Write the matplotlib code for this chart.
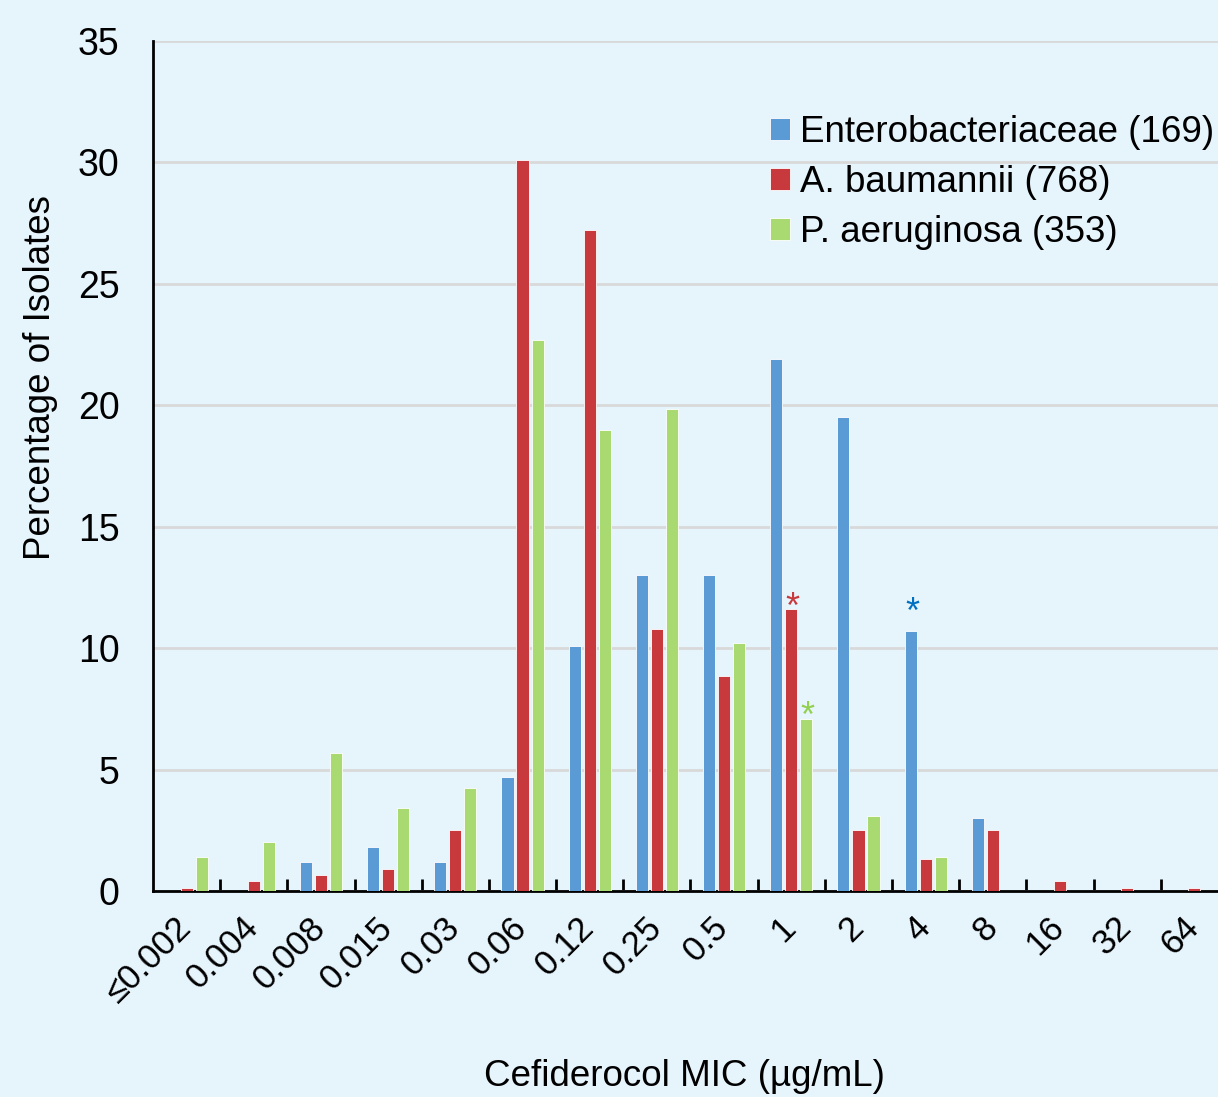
import numpy as np
import matplotlib
matplotlib.use("Agg")
import matplotlib.pyplot as plt
import matplotlib.transforms as mtransforms

plt.rcParams['font.family'] = ['Liberation Sans', 'DejaVu Sans']

categories = ["≤0.002", "0.004", "0.008", "0.015", "0.03", "0.06", "0.12", "0.25",
              "0.5", "1", "2", "4", "8", "16", "32", "64"]
entero = [0, 0, 1.2, 1.8, 1.2, 4.7, 10.1, 13.0, 13.0, 21.9, 19.5, 10.7, 3.0, 0, 0, 0]
abaum = [0.13, 0.4, 0.65, 0.9, 2.5, 30.1, 27.2, 10.8, 8.85, 11.6, 2.5, 1.3, 2.5, 0.4, 0.13, 0.13]
paer = [1.4, 2.0, 5.7, 3.4, 4.25, 22.7, 19.0, 19.85, 10.2, 7.1, 3.1, 1.4, 0, 0, 0, 0]
labels = ["Enterobacteriaceae (169)", "A. baumannii (768)", "P. aeruginosa (353)"]

# asterisks: (series index, category)
stars = [(1, "1"), (2, "1"), (0, "4")]

bg = "#E6F4FC"
colors = ["#5B9BD5", "#C8393D", "#A9D971"]
star_colors = ["#0070C0", "#C8393D", "#92D050"]

fig = plt.figure(figsize=(12.18, 10.97), dpi=100)
fig.patch.set_facecolor(bg)
ax = fig.add_axes([153 / 1218, 1 - 891 / 1097, (1228 - 153) / 1218, (891 - 41) / 1097])
ax.set_facecolor(bg)

x = np.arange(len(categories))
off = 0.224
w = 0.18
series = [entero, abaum, paer]
for i, (vals, c, lab) in enumerate(zip(series, colors, labels)):
    ax.bar(x + (i - 1) * off, vals, width=w, color=c, label=lab,
           edgecolor="#FFFFFF", linewidth=0.6, zorder=3)

for si, cat in stars:
    k = categories.index(cat)
    dy = 0 if si == 0 else -12
    ax.annotate("*", (k + (si - 1) * off, series[si][k]), xytext=(1, dy),
                textcoords="offset points", ha="center", va="bottom",
                fontsize=26, color=star_colors[si], zorder=4)

ax.set_xlim(-0.5, len(categories) - 0.5)
ax.set_ylim(0, 35)
ax.set_yticks(range(0, 36, 5))
ax.yaxis.grid(True, color="#D9D9D9", linewidth=2, zorder=0)
ax.set_axisbelow(True)
ax.tick_params(axis="y", length=0, labelsize=27, pad=24)

ax.set_xticks(x)
ax.set_xticklabels(categories, rotation=45, ha="right", fontsize=25)
ax.tick_params(axis="x", length=0, pad=12)
shift = mtransforms.ScaledTranslation(11 / 100, -3 / 100, fig.dpi_scale_trans)
for t in ax.get_xticklabels():
    t.set_transform(t.get_transform() + shift)
ax.set_xticks(np.arange(0.5, len(categories) - 0.5), minor=True)
ax.tick_params(axis="x", which="minor", direction="in", length=9, width=2, color="black")

for s in ["top", "right"]:
    ax.spines[s].set_visible(False)
for s in ["left", "bottom"]:
    ax.spines[s].set_linewidth(2)

ax.set_ylabel("Percentage of Isolates", fontsize=26.5, va="center")
ax.yaxis.set_label_coords((40 - 153) / 1075, (891 - 378) / 850)
ax.set_xlabel("Cefiderocol MIC (µg/mL)", fontsize=26.5, va="center")
ax.xaxis.set_label_coords((684 - 153) / 1075, (891 - 1077) / 850)

leg = ax.legend(loc="upper left", bbox_to_anchor=(0.56, 0.93), frameon=False,
                fontsize=26.5, handlelength=0.55, handleheight=0.55, handletextpad=0.27,
                labelspacing=0.4, borderaxespad=0)

fig.savefig("out.png", dpi=100, facecolor=bg)
